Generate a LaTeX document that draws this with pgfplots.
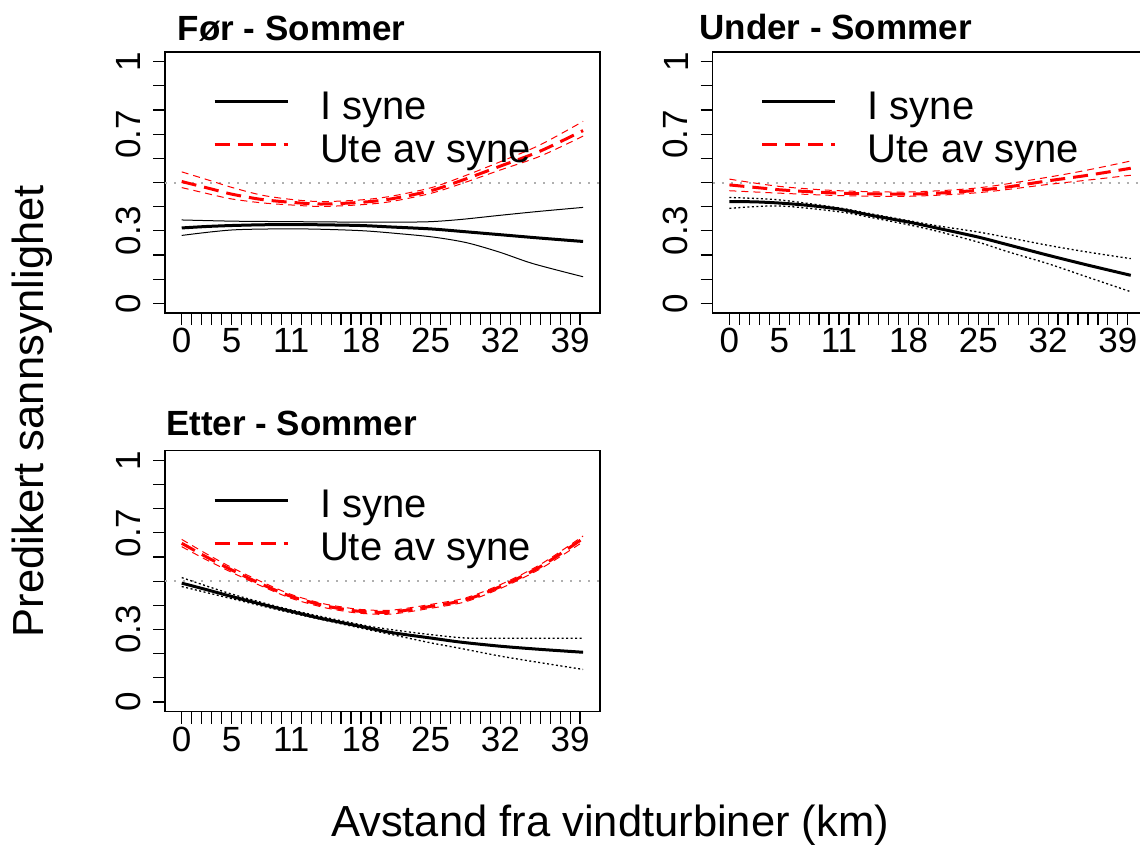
\documentclass[border=0pt]{standalone}
\usepackage{fontspec}
\setmainfont{Liberation Sans}
\usepackage{pgfplots}
\pgfplotsset{compat=1.18}

\definecolor{rred}{RGB}{255,0,0}
\definecolor{refgray}{RGB}{175,175,175}

\pgfplotsset{
 panel/.style={
  scale only axis, width=435pt, height=261pt,
  xmin=-1.68, xmax=42.0, ymin=-0.04, ymax=1.04,
  axis line style={line width=1.2pt},
  every tick/.style={line width=1.2pt, black},
  tick align=outside, tick pos=left,
  major tick length=12pt, minor tick length=12pt,
  xtick={0,5,11,18,25,32,39},
  minor xtick={1,2,3,4,6,7,8,9,10,12,13,14,15,16,17,19,20,21,22,23,24,26,27,28,29,30,31,33,34,35,36,37,38,40},
  ytick={0,0.3,0.7,1},
  minor ytick={0.1,0.2,0.4,0.5,0.6,0.8,0.9},
  /pgf/number format/assume math mode=true,
  ticklabel style={font=\fontsize{35}{35}\selectfont},
  yticklabel style={xshift=-9pt, rotate=90, anchor=south},
  legend image code/.code={\path (0pt,0pt); \draw[#1] (0pt,7pt) -- (73pt,7pt);},
  legend style={draw=none, fill=none, font=\fontsize{40}{40}\selectfont,
    anchor=north west, at={(0.103,0.862)}, row sep=6pt,
    nodes={inner sep=0pt, text height=29pt, text depth=8pt},
    /tikz/every odd column/.append style={column sep=31pt}},
  legend cell align=left,
  title style={font=\bfseries\fontsize{35}{35}\selectfont, anchor=base west, inner sep=0pt},
 },
 mainblack/.style={black, line width=3pt, smooth},
 mainred/.style={rred, line width=3pt, smooth, dash pattern=on 15pt off 8pt},
 cisolid/.style={black, line width=1pt, smooth, forget plot},
 cidot/.style={black, line width=1.3pt, smooth, dash pattern=on 2pt off 2.5pt, forget plot},
 cired/.style={rred, line width=1pt, smooth, dash pattern=on 7pt off 5pt, forget plot},
 refline/.style={refgray, line width=2pt, dash pattern=on 2pt off 7pt, forget plot},
}

\begin{document}
\begin{tikzpicture}
\path[use as bounding box] (0,0) rectangle (1140pt,-847pt);

% ---------------- Panel 1: Før - Sommer ----------------
\begin{axis}[panel, at={(165pt,-313pt)}, anchor=south west,
  title={Før - Sommer}, title style={at={(0.029,1)}, yshift=6pt}]
\addplot[refline] coordinates {(-1.68,0.5) (42,0.5)};
\addplot[cisolid] coordinates {(0,0.345) (5.2,0.340) (11,0.338) (17.9,0.336) (22,0.336) (25,0.338) (28,0.347) (31.9,0.364) (36,0.381) (40.3,0.397)};
\addplot[cisolid] coordinates {(0,0.281) (5.2,0.304) (11.9,0.308) (17.9,0.301) (21.9,0.288) (25.3,0.274) (28.6,0.251) (31.9,0.212) (35.3,0.164) (40.3,0.110)};
\addplot[mainblack] coordinates {(0,0.312) (2.5,0.318) (5,0.322) (8,0.325) (11,0.326) (14,0.325) (18,0.322) (21,0.316) (25,0.308) (28,0.298) (32,0.284) (36,0.270) (40.3,0.256)};
\addlegendentry{I syne}
\addplot[cired] coordinates {(0,0.544) (3,0.506) (5,0.480) (8,0.448) (11,0.430) (14,0.421) (18,0.428) (21,0.443) (25,0.478) (28,0.521) (32,0.586) (36,0.656) (40.3,0.753)};
\addplot[cired] coordinates {(0,0.479) (3,0.450) (5,0.432) (8,0.416) (11,0.407) (14,0.401) (18,0.408) (21,0.421) (25,0.455) (28,0.494) (32,0.552) (36,0.609) (40.3,0.692)};
\addplot[mainred] coordinates {(0,0.504) (3,0.473) (5,0.452) (8,0.430) (11,0.418) (14,0.411) (18,0.418) (21,0.432) (25,0.466) (28,0.507) (32,0.568) (36,0.630) (40.3,0.715)};
\addlegendentry{Ute av syne}
\end{axis}

% ---------------- Panel 2: Under - Sommer ----------------
\begin{axis}[panel, at={(712.7pt,-313pt)}, anchor=south west,
  title={Under - Sommer}, title style={at={(-0.031,1)}, yshift=7pt}]
\addplot[refline] coordinates {(-1.68,0.5) (42,0.5)};
\addplot[cidot] coordinates {(0,0.438) (5,0.428) (11,0.395) (14,0.372) (18,0.342) (21,0.320) (25,0.295) (28,0.272) (32,0.240) (36,0.212) (40.3,0.185)};
\addplot[cidot] coordinates {(0,0.393) (5,0.403) (11,0.379) (14,0.357) (18,0.325) (21,0.297) (25,0.253) (28,0.213) (32,0.164) (36,0.108) (40.3,0.048)};
\addplot[mainblack] coordinates {(0,0.421) (2.5,0.420) (5,0.415) (8,0.405) (11,0.390) (14,0.366) (18,0.336) (21,0.310) (25,0.274) (28,0.242) (32,0.199) (36,0.158) (40.3,0.116)};
\addlegendentry{I syne}
\addplot[cired] coordinates {(0,0.514) (5,0.484) (11,0.466) (18,0.461) (25,0.478) (32,0.522) (36,0.552) (40.3,0.589)};
\addplot[cired] coordinates {(0,0.466) (5,0.456) (11,0.446) (18,0.443) (25,0.458) (32,0.492) (36,0.510) (40.3,0.530)};
\addplot[mainred] coordinates {(0,0.490) (3,0.478) (5,0.470) (8,0.462) (11,0.456) (14,0.453) (18,0.452) (21,0.456) (25,0.468) (28,0.482) (32,0.507) (36,0.530) (40.3,0.559)};
\addlegendentry{Ute av syne}
\end{axis}

% ---------------- Panel 3: Etter - Sommer ----------------
\begin{axis}[panel, at={(165pt,-711.7pt)}, anchor=south west,
  title={Etter - Sommer}, title style={at={(0.002,1)}, yshift=9pt}]
\addplot[refline] coordinates {(-1.68,0.5) (42,0.5)};
\addplot[cidot] coordinates {(0,0.515) (5,0.447) (11,0.381) (18,0.320) (21,0.300) (25,0.279) (28.5,0.265) (32,0.264) (36,0.264) (40.3,0.264)};
\addplot[cidot] coordinates {(0,0.478) (5,0.428) (11,0.369) (18,0.306) (21,0.280) (25,0.245) (28,0.222) (32,0.190) (36,0.163) (40.3,0.135)};
\addplot[mainblack] coordinates {(0,0.492) (2.5,0.465) (5,0.437) (8,0.405) (11,0.375) (14,0.346) (18,0.313) (21,0.288) (25,0.265) (28,0.248) (32,0.231) (36,0.218) (40.3,0.206)};
\addlegendentry{I syne}
\addplot[cired] coordinates {(0,0.673) (2.5,0.613) (5,0.557) (8,0.498) (11,0.445) (14,0.409) (16,0.394) (18,0.383) (21,0.380) (25,0.404) (28.5,0.431) (32,0.486) (36,0.569) (40.3,0.687)};
\addplot[cired] coordinates {(0,0.643) (2.5,0.588) (5,0.537) (8,0.480) (11,0.429) (14,0.394) (16,0.378) (18,0.367) (21,0.364) (25,0.388) (28.5,0.415) (32,0.470) (36,0.551) (40.3,0.663)};
\addplot[mainred] coordinates {(0,0.657) (2.5,0.600) (5,0.547) (8,0.488) (11,0.437) (14,0.402) (16,0.386) (18,0.375) (21,0.372) (25,0.396) (28.5,0.423) (32,0.478) (36,0.560) (40.3,0.677)};
\addlegendentry{Ute av syne}
\end{axis}

\node[rotate=90, anchor=base, inner sep=0pt, font=\fontsize{43.5}{43.5}\selectfont] at (43pt,-411pt) {Predikert sannsynlighet};
\node[anchor=base, inner sep=0pt, font=\fontsize{43.5}{43.5}\selectfont] at (610pt,-836pt) {Avstand fra vindturbiner (km)};
\end{tikzpicture}
\end{document}
